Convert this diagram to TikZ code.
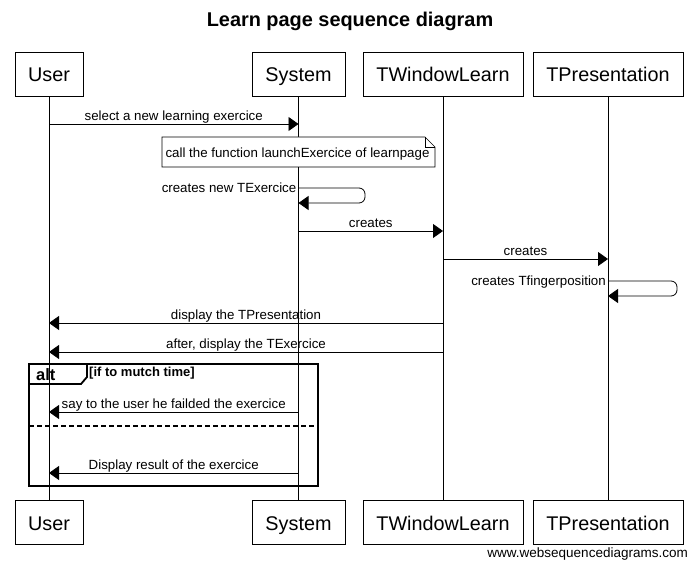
\documentclass[tikz,border=0pt]{standalone}
\usepackage{fontspec}
\setmainfont{Liberation Sans}
\usetikzlibrary{arrows.meta}
\begin{document}
\begin{tikzpicture}[x=1pt,y=-1pt,
  part/.style={draw, line width=0.8pt, minimum height=44pt, inner sep=0pt, text height=17pt, text depth=1pt, font=\fontsize{19.8}{22}\selectfont},
  life/.style={line width=0.8pt},
  msg/.style={line width=0.8pt, -{Triangle[length=10pt,width=14pt]}},
  lbl/.style={font=\fontsize{13.3}{15}\selectfont, inner sep=1pt},
  mlbl/.style={lbl, above, inner sep=0pt, text depth=3pt},
  slbl/.style={lbl, anchor=base east, inner sep=0pt},
  frame/.style={line width=1.8pt}
]
\useasboundingbox (0,0) rectangle (699,569);
\fill[white] (0,0) rectangle (699,569);
\node[font=\bfseries\fontsize{19.9}{22}\selectfont] (title) at (350,21) {Learn page sequence diagram};
% participants top
\node[part, minimum width=68pt]  (Ut) at (49,74) {User};
\node[part, minimum width=93pt]  (St) at (298.5,74) {System};
\node[part, minimum width=160pt] (Wt) at (443,74) {TWindowLearn};
\node[part, minimum width=150pt] (Pt) at (608,74) {TPresentation};
% participants bottom
\node[part, minimum width=68pt]  (Ub) at (49,522) {User};
\node[part, minimum width=93pt]  (Sb) at (298.5,522) {System};
\node[part, minimum width=160pt] (Wb) at (443,522) {TWindowLearn};
\node[part, minimum width=150pt] (Pb) at (608,522) {TPresentation};
% lifelines
\draw[life] (Ut.south) -- (Ub.north);
\draw[life] (St.south) -- (Sb.north);
\draw[life] (Wt.south) -- (Wb.north);
\draw[life] (Pt.south) -- (Pb.north);
% coordinates on lifelines
\coordinate (U1) at (Ut.south |- 0,124);
\coordinate (S1) at (St.south |- 0,124);
\coordinate (S3a) at (St.south |- 0,188);
\coordinate (S3b) at (St.south |- 0,203);
\coordinate (S4) at (St.south |- 0,231);
\coordinate (W4) at (Wt.south |- 0,231);
\coordinate (W5) at (Wt.south |- 0,259);
\coordinate (P5) at (Pt.south |- 0,259);
\coordinate (P6a) at (Pt.south |- 0,281);
\coordinate (P6b) at (Pt.south |- 0,296);
\coordinate (W7) at (Wt.south |- 0,323);
\coordinate (U7) at (Ut.south |- 0,323);
\coordinate (W8) at (Wt.south |- 0,352);
\coordinate (U8) at (Ut.south |- 0,352);
\coordinate (S10) at (St.south |- 0,412);
\coordinate (U10) at (Ut.south |- 0,412);
\coordinate (S12) at (St.south |- 0,473);
\coordinate (U12) at (Ut.south |- 0,473);
% messages
\draw[msg] (U1) -- node[mlbl] {select a new learning exercice} (S1);
% note
\draw[line width=0.6pt, fill=white] (162,137) -- (425,137) -- (435,147) -- (435,167) -- (162,167) -- cycle;
\draw[line width=0.6pt] (425,137) -- (425,147) -- (435,147);
\node[lbl] (note) at (297.5,154) {call the function launchExercice of learnpage};
% self message System
\draw[msg, rounded corners=6pt] (S3a) -- (365,188) -- (365,203) -- (S3b);
\node[slbl] (l3) at ([xshift=-2pt,yshift=-5pt]S3a) {creates new TExercice};
\draw[msg] (S4) -- node[mlbl] {creates} (W4);
\draw[msg] (W5) -- node[mlbl] {creates} (P5);
% self message TPresentation
\draw[msg, rounded corners=6pt] (P6a) -- (677,281) -- (677,296) -- (P6b);
\node[slbl] (l6) at ([xshift=-2pt,yshift=-5pt]P6a) {creates Tfingerposition};
\draw[msg] (W7) -- node[mlbl] {display the TPresentation} (U7);
\draw[msg] (W8) -- node[mlbl] {after, display the TExercice} (U8);
% alt frame
\draw[frame] (29,364) rectangle (318,486);
\draw[frame] (29,364) -- (87,364) -- (87,377) -- (81,384) -- (29,384);
\node[font=\bfseries\fontsize{16.5}{18}\selectfont, anchor=west, inner sep=0pt] (alt) at (36,375) {alt};
\node[font=\bfseries\fontsize{13}{14}\selectfont, anchor=west, inner sep=0pt] (cond) at (89,373) {[if to mutch time]};
\draw[msg] (S10) -- node[mlbl] {say to the user he failded the exercice} (U10);
\draw[frame, dash pattern=on 5pt off 3pt] (29,426) -- (318,426);
\draw[msg] (S12) -- node[mlbl] {Display result of the exercice} (U12);
% footer
\node[font=\fontsize{13.5}{15}\selectfont, anchor=east, inner sep=0pt] (foot) at (688,554) {www.websequencediagrams.com};
\end{tikzpicture}
\end{document}
